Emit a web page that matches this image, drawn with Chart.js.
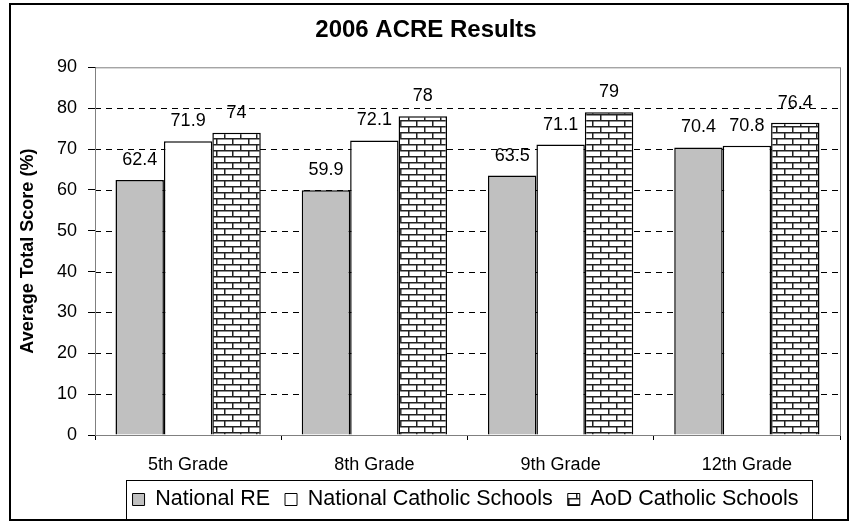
<!DOCTYPE html>
<html>
<head>
<meta charset="utf-8">
<script src="https://cdn.jsdelivr.net/npm/chart.js@4.4.1/dist/chart.umd.min.js"></script>
<style>
  html, body { margin: 0; padding: 0; background: #fff; }
  #wrap { width: 856px; height: 524px; }
</style>
</head>
<body>
<div id="wrap"><canvas id="acreChart" width="856" height="524"></canvas></div>
<script>
// Data
const grades = ['5th Grade', '8th Grade', '9th Grade', '12th Grade'];
const nationalRE = [62.4, 59.9, 63.5, 70.4];
const nationalCatholic = [71.9, 72.1, 71.1, 70.8];
const aodCatholic = [74, 78, 79, 76.4];
const yTicks = [0, 10, 20, 30, 40, 50, 60, 70, 80, 90];

const FONT = "'Liberation Sans', Arial, sans-serif";

// Brick pattern for the AoD series
function brickPattern() {
    const c = document.createElement('canvas');
    c.width = 16;
    c.height = 12;
    const g = c.getContext('2d');
    g.fillStyle = '#fff';
    g.fillRect(0, 0, 16, 12);
    g.strokeStyle = '#222';
    g.lineWidth = 1.5;
    g.beginPath();
    g.moveTo(0, 0.75); g.lineTo(16, 0.75);
    g.moveTo(0, 6.75); g.lineTo(16, 6.75);
    g.moveTo(0.75, 0); g.lineTo(0.75, 6);
    g.moveTo(8.75, 6); g.lineTo(8.75, 12);
    g.stroke();
    return g.createPattern(c, 'repeat');
}

// Frame, dashed gridlines, value labels, legend box
const decorations = {
    id: 'decorations',
    afterUpdate(chart) {
        // centre the legend under the plot area, not the whole canvas
        const { legend, chartArea: a } = chart;
        const hb = legend.legendHitBoxes;
        if (!hb || !hb.length) return;
        const l = Math.min(...hb.map(h => h.left));
        const r = Math.max(...hb.map(h => h.left + h.width));
        const shift = (a.left + a.right) / 2 - (l + r) / 2 - 2;
        legend.left += shift;
        legend.right += shift;
        hb.forEach(h => { h.left += shift; });
    },
    beforeDatasetsDraw(chart) {
        const { ctx, chartArea: a, scales: { y } } = chart;
        ctx.save();
        ctx.strokeStyle = '#000';
        ctx.lineWidth = 1;
        ctx.setLineDash([6, 5]);
        yTicks.forEach(v => {
            if (v === 0 || v === 90) return;
            const py = Math.round(y.getPixelForValue(v)) + 0.5;
            ctx.beginPath();
            ctx.moveTo(a.left, py);
            ctx.lineTo(a.right, py);
            ctx.stroke();
        });
        ctx.setLineDash([]);
        ctx.strokeStyle = '#808080';
        ctx.strokeRect(a.left + 0.5, a.top + 0.5, a.right - a.left, a.bottom - a.top);
        ctx.restore();
    },
    afterDraw(chart) {
        const { ctx, width, height, legend } = chart;
        ctx.save();
        ctx.font = '18px ' + FONT;
        ctx.fillStyle = '#000';
        ctx.textAlign = 'center';
        ctx.textBaseline = 'alphabetic';
        chart.data.datasets.forEach((ds, i) => {
            chart.getDatasetMeta(i).data.forEach((bar, j) => {
                ctx.fillText(String(ds.data[j]), bar.x, bar.y - 15);
            });
        });
        // box round the legend items only
        const hb = legend.legendHitBoxes;
        const l = Math.min(...hb.map(h => h.left)) - 7;
        const r = Math.max(...hb.map(h => h.left + h.width)) + 13;
        const cy = hb[0].top + hb[0].height / 2;
        ctx.strokeStyle = '#000';
        ctx.lineWidth = 1;
        ctx.strokeRect(Math.round(l) + 0.5, Math.round(cy - 19.5) + 0.5, Math.round(r - l), 39);
        // outer frame
        ctx.lineWidth = 2;
        ctx.strokeRect(10, 4, width - 18, height - 8);
        ctx.restore();
    }
};

new Chart(document.getElementById('acreChart'), {
    type: 'bar',
    data: {
        labels: grades,
        datasets: [{
            label: 'National RE',
            data: nationalRE,
            backgroundColor: '#c0c0c0',
            borderColor: '#000',
            borderWidth: 1.5
        }, {
            label: 'National Catholic Schools',
            data: nationalCatholic,
            backgroundColor: '#fff',
            borderColor: '#000',
            borderWidth: 1.5
        }, {
            label: 'AoD Catholic Schools',
            data: aodCatholic,
            backgroundColor: brickPattern(),
            borderColor: '#000',
            borderWidth: 1.5
        }]
    },
    options: {
        responsive: false,
        animation: false,
        layout: {
            padding: { left: 12, right: 16, top: 4, bottom: 3.75 }
        },
        datasets: {
            bar: { categoryPercentage: 0.78, barPercentage: 1 }
        },
        plugins: {
            tooltip: { enabled: false },
            title: {
                display: true,
                text: '2006 ACRE Results',
                color: '#000',
                font: { family: FONT, size: 24, weight: 'bold' },
                padding: { top: 12, bottom: 22.5 }
            },
            legend: {
                position: 'bottom',
                labels: {
                    color: '#000',
                    font: { family: FONT, size: 21.5 },
                    boxWidth: 12,
                    boxHeight: 12,
                    padding: 15,
                    generateLabels(chart) {
                        return chart.data.datasets.map((ds, i) => ({
                            text: ds.label,
                            fillStyle: ds.backgroundColor,
                            strokeStyle: '#000',
                            lineWidth: 1,
                            datasetIndex: i
                        }));
                    }
                }
            }
        },
        scales: {
            x: {
                offset: true,
                border: { color: '#000', width: 1 },
                grid: { offset: true, drawOnChartArea: false, color: '#000', tickLength: 5 },
                ticks: { color: '#000', font: { family: FONT, size: 18 }, padding: 14 },
                afterFit(scale) { scale.height = 38.75; }
            },
            y: {
                min: 0,
                max: 90,
                border: { color: '#000', width: 1 },
                grid: { drawOnChartArea: false, color: '#000', tickLength: 7 },
                afterBuildTicks(scale) {
                    scale.ticks = yTicks.map(v => ({ value: v }));
                },
                afterFit(scale) { scale.width = 83; },
                ticks: { color: '#000', font: { family: FONT, size: 18 }, padding: 11 },
                title: {
                    display: true,
                    text: 'Average Total Score (%)',
                    color: '#000',
                    font: { family: FONT, size: 18, weight: 'bold' },
                    padding: { top: 5, bottom: 0 }
                }
            }
        }
    },
    plugins: [decorations]
});
</script>
</body>
</html>
